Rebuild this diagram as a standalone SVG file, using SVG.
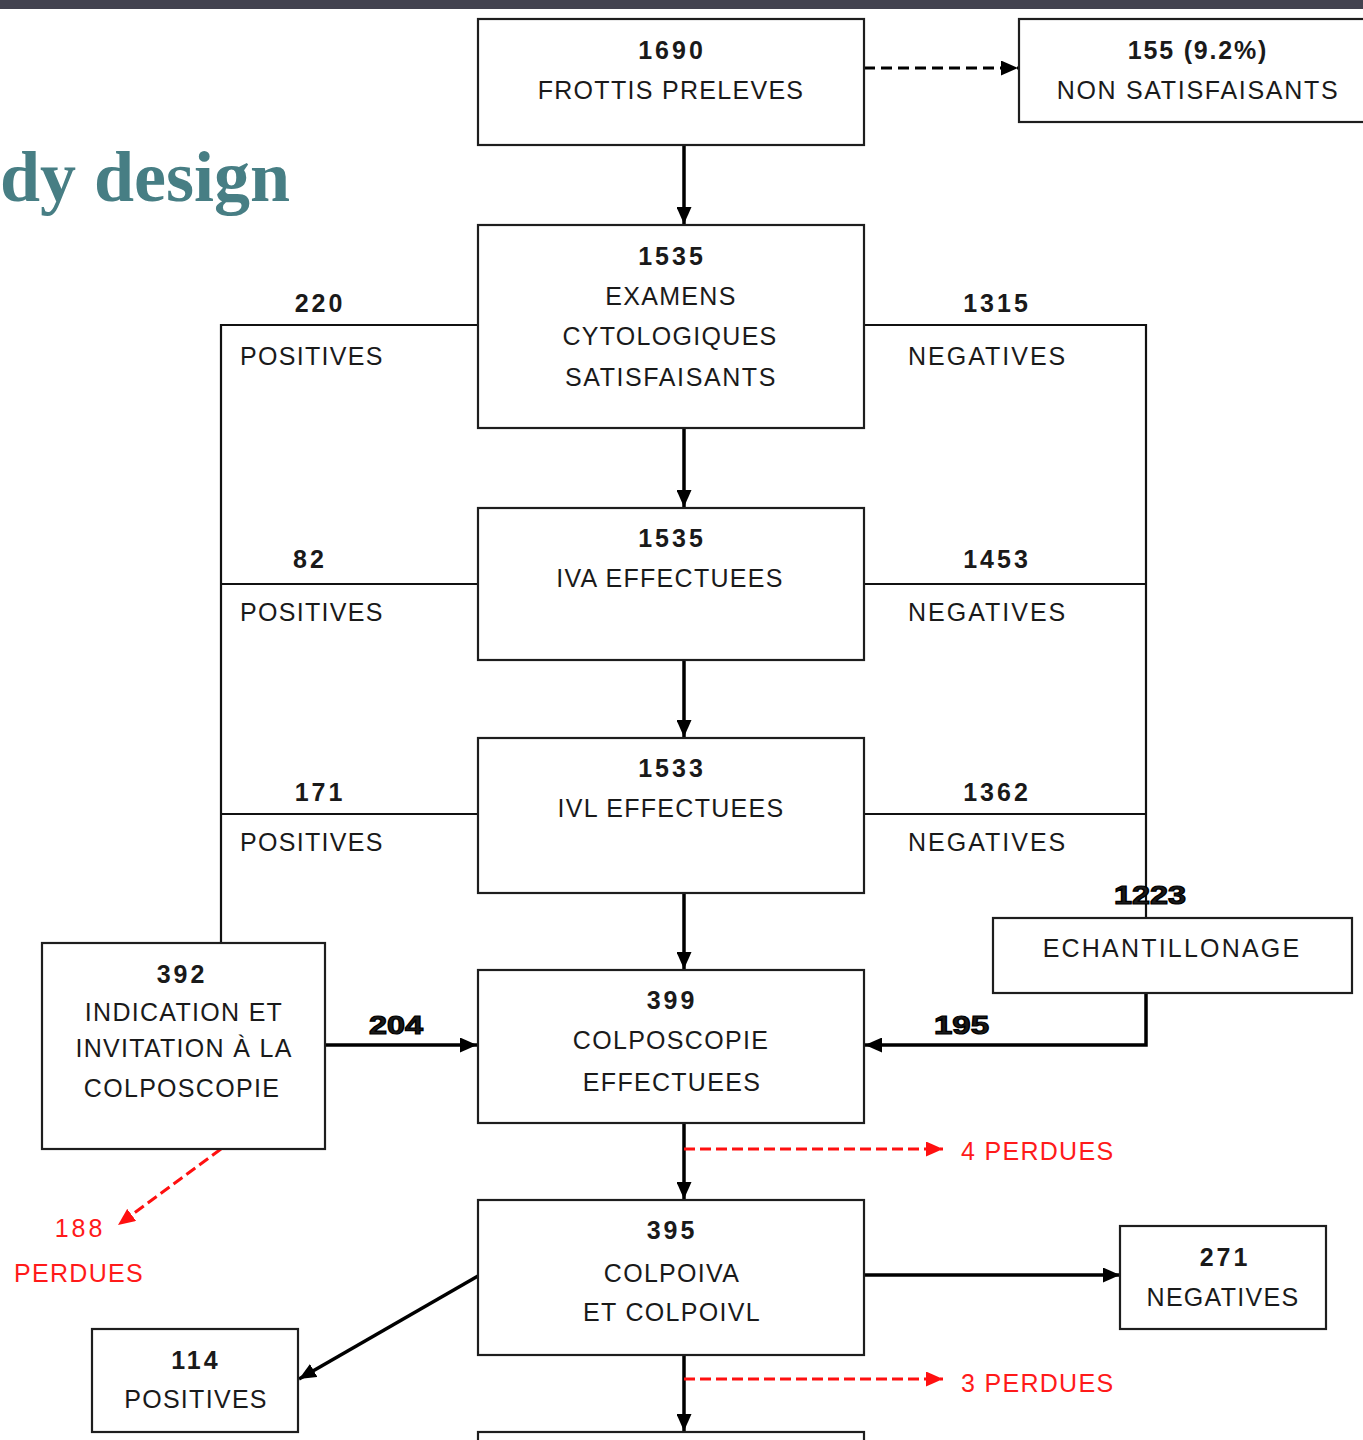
<svg xmlns="http://www.w3.org/2000/svg" width="1363" height="1440" viewBox="0 0 1363 1440">
<style>
.box{fill:#fff;stroke:#1e1e1e;stroke-width:2.2}
.t{font-family:"Liberation Sans",Arial,sans-serif;font-size:25px;fill:#1a1a1a;text-anchor:middle;letter-spacing:1.3px}
.b{font-weight:bold;letter-spacing:3px}
.h{font-weight:bold;stroke:#000;stroke-width:1.2;letter-spacing:0}
.l{text-anchor:start}
.r{fill:#ff1a1a}
.ln{stroke:#111;stroke-width:2.2;fill:none}
.ar{stroke:#000;stroke-width:3.5;fill:none}
.dash{stroke:#000;stroke-width:3;fill:none;stroke-dasharray:11 6}
.rdash{stroke:#ff1010;stroke-width:3;fill:none;stroke-dasharray:11 5}
</style>
<defs>
<marker id="ah" markerUnits="userSpaceOnUse" markerWidth="17" markerHeight="15" refX="17" refY="7.5" orient="auto">
<path d="M0,0 L17,7.5 L0,15 z" fill="#000"/>
</marker>
<marker id="ahr" markerUnits="userSpaceOnUse" markerWidth="17" markerHeight="15" refX="17" refY="7.5" orient="auto">
<path d="M0,0 L17,7.5 L0,15 z" fill="#ff1010"/>
</marker>
</defs>
<rect x="0" y="0" width="1363" height="1440" fill="#fff"/>
<rect x="0" y="0" width="1363" height="9" fill="#42424f"/>
<text x="0" y="201" font-family="Liberation Serif,Times New Roman,serif" font-weight="bold" font-size="72" fill="#477e84">dy design</text>

<g id="connectors">
<line class="ar" x1="684" y1="145" x2="684" y2="224" marker-end="url(#ah)"/>
<line class="dash" x1="864" y1="68" x2="1018" y2="68" marker-end="url(#ah)"/>
<line class="ar" x1="684" y1="428" x2="684" y2="507" marker-end="url(#ah)"/>
<line class="ar" x1="684" y1="660" x2="684" y2="737" marker-end="url(#ah)"/>
<line class="ar" x1="684" y1="889" x2="684" y2="969" marker-end="url(#ah)"/>
<line class="ar" x1="684" y1="1123" x2="684" y2="1199" marker-end="url(#ah)"/>
<line class="ar" x1="684" y1="1355" x2="684" y2="1431" marker-end="url(#ah)"/>
<polyline class="ln" points="478,325 221,325 221,943"/>
<line class="ln" x1="221" y1="584" x2="478" y2="584"/>
<line class="ln" x1="221" y1="814" x2="478" y2="814"/>
<polyline class="ln" points="864,325 1146,325 1146,918"/>
<line class="ln" x1="864" y1="584" x2="1146" y2="584"/>
<line class="ln" x1="864" y1="814" x2="1146" y2="814"/>
<polyline class="ar" stroke-width="3" points="1146,993 1146,1045 1010,1045"/>
<line class="ar" x1="1010" y1="1045" x2="865" y2="1045" marker-end="url(#ah)"/>
<line class="ar" x1="325" y1="1045" x2="477" y2="1045" marker-end="url(#ah)"/>
<line class="rdash" x1="221" y1="1149" x2="118" y2="1225" marker-end="url(#ahr)"/>
<line class="rdash" x1="684" y1="1149" x2="943" y2="1149" marker-end="url(#ahr)"/>
<line class="rdash" x1="684" y1="1379" x2="943" y2="1379" marker-end="url(#ahr)"/>
<line class="ar" stroke-width="4" x1="864" y1="1275" x2="1120" y2="1275" marker-end="url(#ah)"/>
<line class="ar" stroke-width="3" x1="478" y1="1276" x2="299" y2="1379" marker-end="url(#ah)"/>
<text class="t b" x="320" y="312">220</text>
<text class="t l" x="240" y="365">POSITIVES</text>
<text class="t b" x="310" y="568">82</text>
<text class="t l" x="240" y="621">POSITIVES</text>
<text class="t b" x="320" y="801">171</text>
<text class="t l" x="240" y="851">POSITIVES</text>
<text class="t b" x="997" y="312">1315</text>
<text class="t l" x="908" y="365" style="letter-spacing:2px">NEGATIVES</text>
<text class="t b" x="997" y="568">1453</text>
<text class="t l" x="908" y="621" style="letter-spacing:2px">NEGATIVES</text>
<text class="t b" x="997" y="801">1362</text>
<text class="t l" x="908" y="851" style="letter-spacing:2px">NEGATIVES</text>
<text class="t h" x="1114" y="904" textLength="72" lengthAdjust="spacingAndGlyphs" style="text-anchor:start">1223</text>
<text class="t h" x="369" y="1034" textLength="54" lengthAdjust="spacingAndGlyphs" style="text-anchor:start">204</text>
<text class="t h" x="934" y="1034" textLength="55" lengthAdjust="spacingAndGlyphs" style="text-anchor:start">195</text>
<text class="t r" x="80" y="1237" style="letter-spacing:3px">188</text>
<text class="t r" x="79" y="1282">PERDUES</text>
<text class="t r l" x="961" y="1160">4 PERDUES</text>
<text class="t r l" x="961" y="1392">3 PERDUES</text>
</g>

<g id="n1690">
<rect class="box" x="478" y="19" width="386" height="126"/>
<text class="t b" x="672" y="59">1690</text>
<text class="t" x="671" y="99">FROTTIS PRELEVES</text>
</g>
<g id="n155">
<rect class="box" x="1019" y="19" width="350" height="103"/>
<text class="t b" x="1198" y="59" style="letter-spacing:1.8px">155 (9.2%)</text>
<text class="t" x="1198" y="99" style="letter-spacing:1.7px">NON SATISFAISANTS</text>
</g>
<g id="n1535a">
<rect class="box" x="478" y="225" width="386" height="203"/>
<text class="t b" x="672" y="265">1535</text>
<text class="t" x="671" y="305">EXAMENS</text>
<text class="t" x="670" y="345">CYTOLOGIQUES</text>
<text class="t" x="671" y="386" style="letter-spacing:1.6px">SATISFAISANTS</text>
</g>
<g id="n1535b">
<rect class="box" x="478" y="508" width="386" height="152"/>
<text class="t b" x="672" y="547">1535</text>
<text class="t" x="670" y="587">IVA EFFECTUEES</text>
</g>
<g id="n1533">
<rect class="box" x="478" y="738" width="386" height="155"/>
<text class="t b" x="672" y="777">1533</text>
<text class="t" x="671" y="817">IVL EFFECTUEES</text>
</g>
<g id="n399">
<rect class="box" x="478" y="970" width="386" height="153"/>
<text class="t b" x="672" y="1009">399</text>
<text class="t" x="671" y="1049">COLPOSCOPIE</text>
<text class="t" x="672" y="1091">EFFECTUEES</text>
</g>
<g id="n395">
<rect class="box" x="478" y="1200" width="386" height="155"/>
<text class="t b" x="672" y="1239">395</text>
<text class="t" x="672" y="1282">COLPOIVA</text>
<text class="t" x="672" y="1321">ET COLPOIVL</text>
</g>
<g id="nbottom">
<rect class="box" x="478" y="1432" width="386" height="40"/>
</g>
<g id="n392">
<rect class="box" x="42" y="943" width="283" height="206"/>
<text class="t b" x="182" y="983">392</text>
<text class="t" x="184" y="1021">INDICATION ET</text>
<text class="t" x="184" y="1057">INVITATION À LA</text>
<text class="t" x="182" y="1097">COLPOSCOPIE</text>
</g>
<g id="nechant">
<rect class="box" x="993" y="918" width="359" height="75"/>
<text class="t" x="1172" y="957" style="letter-spacing:2.2px">ECHANTILLONAGE</text>
</g>
<g id="n271">
<rect class="box" x="1120" y="1226" width="206" height="103"/>
<text class="t b" x="1225" y="1266">271</text>
<text class="t" x="1223" y="1306">NEGATIVES</text>
</g>
<g id="n114">
<rect class="box" x="92" y="1329" width="206" height="103"/>
<text class="t b" x="196" y="1369">114</text>
<text class="t" x="196" y="1408">POSITIVES</text>
</g>
</svg>
